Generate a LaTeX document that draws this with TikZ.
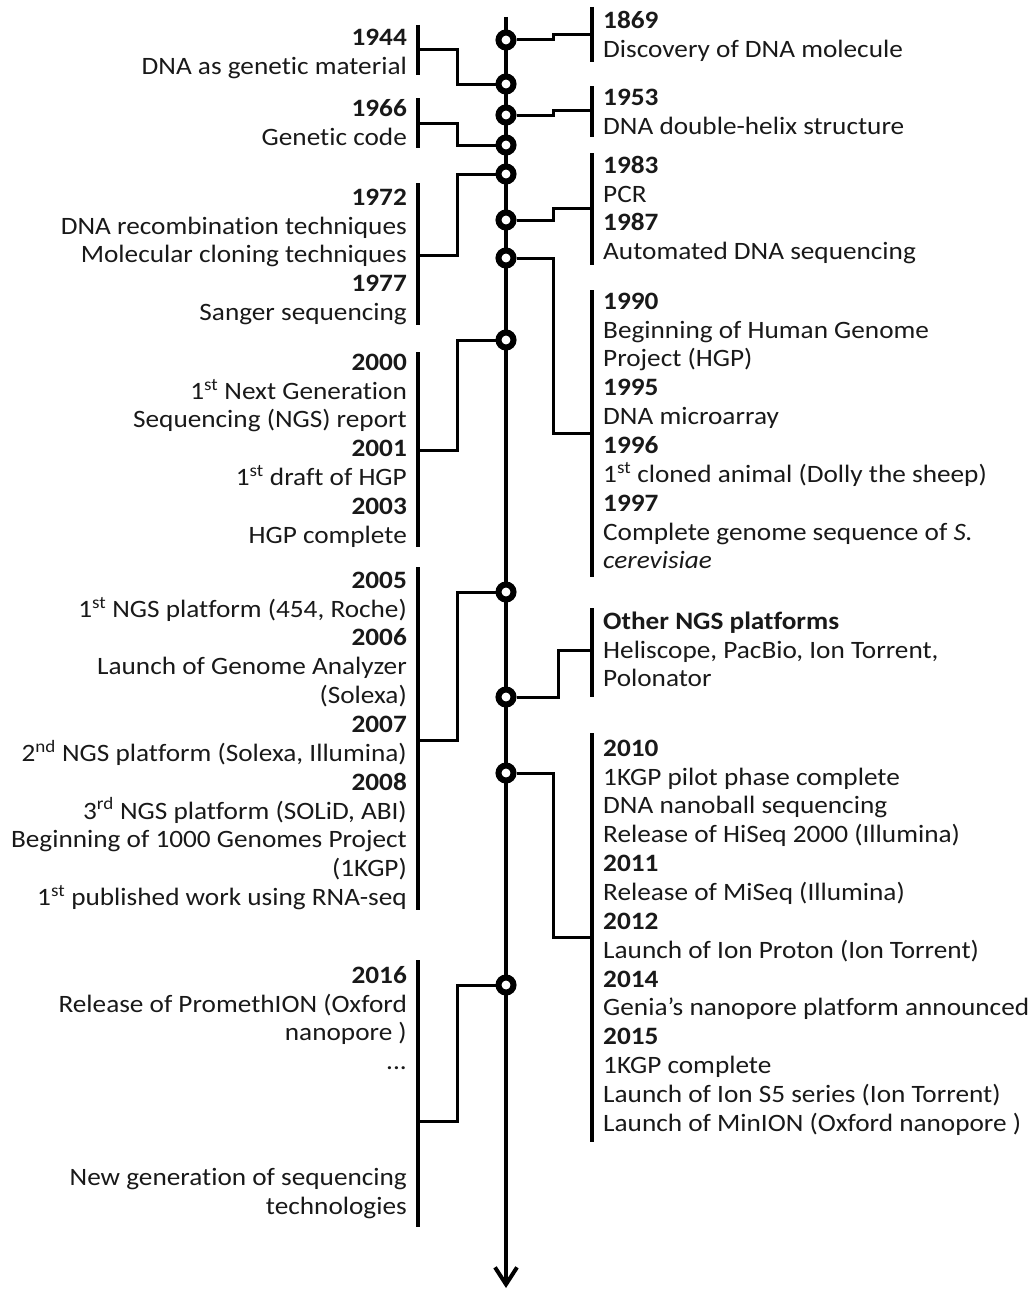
\documentclass[tikz,border=0pt]{standalone}
\usepackage{fontspec}
\setmainfont{Carlito}[FakeStretch=1.09, Ligatures={TeX,CommonOff}]
\usetikzlibrary{arrows.meta}
\definecolor{txt}{RGB}{25,25,25}
\tikzset{
  base/.style={inner sep=0pt, font=\fontsize{25}{28.85}\selectfont, text=txt},
  rtext/.style={base, anchor=north west, align=left},
  ltext/.style={base, anchor=north east, align=right},
  dot/.style={circle, draw=black, fill=white, line width=6pt, minimum size=15pt, inner sep=0pt},
  conn/.style={line width=3pt, line join=miter},
  bar/.style={line width=4pt},
  axis/.style={line width=4pt},
}
\newcommand{\yr}[1]{\textbf{#1}}
\begin{document}
\begin{tikzpicture}[x=1pt, y=-1pt]
\useasboundingbox (0,0) rectangle (1033,1290);
% axis
\coordinate (top) at (506,17);
\coordinate (bottom) at (506,1288);
\draw[axis, -{Straight Barb[length=17pt, width=22pt]}] (top) -- (bottom);

% bars
\draw[bar] (592,7) -- (592,62);
\draw[bar] (592,86) -- (592,137);
\draw[bar] (592,153) -- (592,265);
\draw[bar] (592,290) -- (592,577);
\draw[bar] (592,608) -- (592,697);
\draw[bar] (592,733) -- (592,1142);
\draw[bar] (418,25) -- (418,75);
\draw[bar] (418,98) -- (418,148);
\draw[bar] (418,183) -- (418,325);
\draw[bar] (418,352) -- (418,547);
\draw[bar] (418,567) -- (418,910);
\draw[bar] (418,960) -- (418,1227);

% bar attachment points
\coordinate (r1) at (592,34.5);
\coordinate (r2) at (592,110.5);
\coordinate (r3) at (592,208);
\coordinate (r4) at (592,433);
\coordinate (r5) at (592,650);
\coordinate (r6) at (592,937);
\coordinate (l1) at (418,50);
\coordinate (l2) at (418,123);
\coordinate (l3) at (418,255);
\coordinate (l4) at (418,450);
\coordinate (l5) at (418,740);
\coordinate (l6) at (418,1121);

% circles
\node[dot] (c1) at (506,40) {};
\node[dot] (c2) at (506,84) {};
\node[dot] (c3) at (506,115) {};
\node[dot] (c4) at (506,145) {};
\node[dot] (c5) at (506,174) {};
\node[dot] (c6) at (506,220) {};
\node[dot] (c7) at (506,258) {};
\node[dot] (c8) at (506,340) {};
\node[dot] (c9) at (506,592) {};
\node[dot] (c10) at (506,697) {};
\node[dot] (c11) at (506,773) {};
\node[dot] (c12) at (506,985) {};

% connectors
\draw[conn] (c1.east) -- (553,40) -- (553,34.5) -- (r1);
\draw[conn] (l1) -- (457,50) -- (457,84) -- (c2.west);
\draw[conn] (c3.east) -- (553,115) -- (553,110.5) -- (r2);
\draw[conn] (l2) -- (457,123) -- (457,145) -- (c4.west);
\draw[conn] (c5.west) -- (457,174) -- (457,255) -- (l3);
\draw[conn] (c6.east) -- (553,220) -- (553,208) -- (r3);
\draw[conn] (c7.east) -- (553,258) -- (553,433) -- (r4);
\draw[conn] (c8.west) -- (457,340) -- (457,450) -- (l4);
\draw[conn] (c9.west) -- (457,592) -- (457,740) -- (l5);
\draw[conn] (c10.east) -- (558,697) -- (558,650) -- (r5);
\draw[conn] (c11.east) -- (553,773) -- (553,937) -- (r6);
\draw[conn] (c12.west) -- (457,985) -- (457,1121) -- (l6);

% right texts
\node[rtext] (t1869) at (603,8.3) {\strut\yr{1869}\\Discovery of DNA molecule};
\node[rtext] (t1953) at (603,84.8) {\strut\yr{1953}\\DNA double-helix structure};
\node[rtext] (t1983) at (603,152.8) {\strut\yr{1983}\\PCR\\\yr{1987}\\Automated DNA sequencing};
\node[rtext] (t1990) at (603,288.8) {\strut\yr{1990}\\Beginning of Human Genome\\Project (HGP)\\\yr{1995}\\DNA microarray\\\yr{1996}\\1\textsuperscript{st} cloned animal (Dolly the sheep)\\\yr{1997}\\Complete genome sequence of \textit{S.}\\\textit{cerevisiae}};
\node[rtext] (tother) at (603,608.8) {\strut\yr{Other NGS platforms}\\Heliscope, PacBio, Ion Torrent,\\Polonator};
\node[rtext] (t2010) at (603,735.8) {\strut\yr{2010}\\1KGP pilot phase complete\\DNA nanoball sequencing\\Release of HiSeq 2000 (Illumina)\\\yr{2011}\\Release of MiSeq (Illumina)\\\yr{2012}\\Launch of Ion Proton (Ion Torrent)\\\yr{2014}\\Genia’s nanopore platform announced\\\yr{2015}\\1KGP complete\\Launch of Ion S5 series (Ion Torrent)\\Launch of MinION (Oxford nanopore )};

% left texts
\node[ltext] (t1944) at (407,24.8) {\strut\yr{1944}\\DNA as genetic material};
\node[ltext] (t1966) at (407,95.8) {\strut\yr{1966}\\Genetic code};
\node[ltext] (t1972) at (407,184.8) {\strut\yr{1972}\\DNA recombination techniques\\Molecular cloning techniques\\\yr{1977}\\Sanger sequencing};
\node[ltext] (t2000) at (407,349.8) {\strut\yr{2000}\\1\textsuperscript{st} Next Generation\\Sequencing (NGS) report\\\yr{2001}\\1\textsuperscript{st} draft of HGP\\\yr{2003}\\HGP complete};
\node[ltext] (t2005) at (407,567.8) {\strut\yr{2005}\\1\textsuperscript{st} NGS platform (454, Roche)\\\yr{2006}\\Launch of Genome Analyzer\\(Solexa)\\\yr{2007}\\2\textsuperscript{nd} NGS platform (Solexa, Illumina)\\\yr{2008}\\3\textsuperscript{rd} NGS platform (SOLiD, ABI)\\Beginning of 1000 Genomes Project\\(1KGP)\\1\textsuperscript{st} published work using RNA-seq};
\node[ltext] (t2016) at (407,962.8) {\strut\yr{2016}\\Release of PromethION (Oxford\\nanopore )\\...\\\strut\\\strut\\\strut\\New generation of sequencing\\technologies};
\end{tikzpicture}
\end{document}
